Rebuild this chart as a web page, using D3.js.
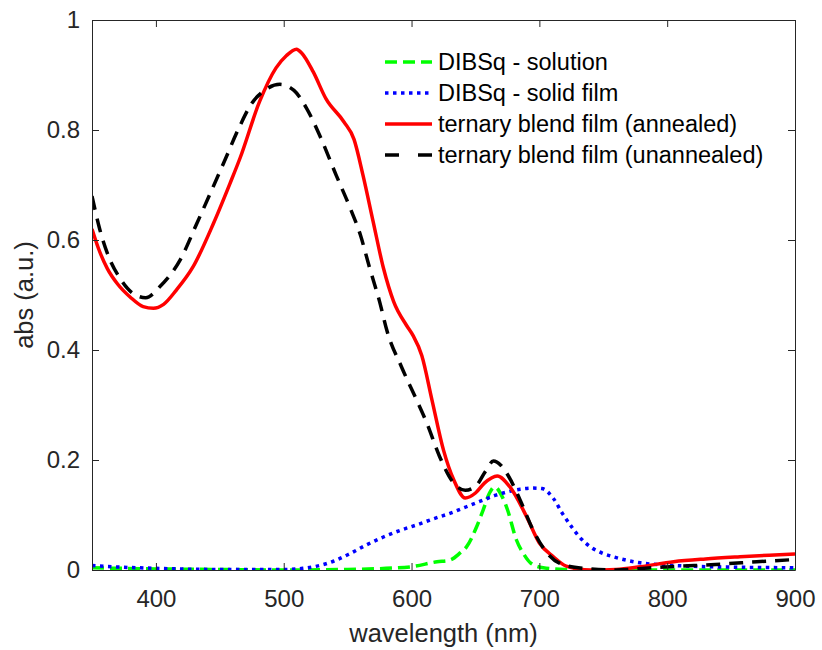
<!DOCTYPE html>
<html>
<head>
<meta charset="utf-8">
<script src="https://cdn.jsdelivr.net/npm/d3@7"></script>
<style>
  html, body { margin: 0; padding: 0; background: #fff; }
  svg { display: block; font-family: "Liberation Sans", Arial, Helvetica, sans-serif; }
</style>
</head>
<body>
<svg id="chart" width="822" height="650"></svg>
<script>
// ---- Data ----
const solutionWl  = [350, 400, 450, 500, 550, 580, 600, 620, 630, 638, 643, 651, 656, 661, 665, 671, 675, 682, 688, 693, 703, 720, 760, 800, 900];
const solutionAbs = [0.004, 0.002, 0.001, 0.0, 0.001, 0.003, 0.006, 0.015, 0.018, 0.031, 0.042, 0.079, 0.109, 0.14, 0.151, 0.133, 0.11, 0.055, 0.028, 0.013, 0.004, 0.001, 0.0, 0.0, 0.0];

const filmWl  = [350, 375, 400, 450, 480, 500, 515, 526, 540, 552, 565, 578, 591, 604, 617, 630, 643, 656, 666, 675, 685, 695, 702, 711, 718, 726, 733, 740, 750, 758, 779, 800, 831, 857, 900];
const filmAbs = [0.008, 0.005, 0.003, 0.001, 0.001, 0.001, 0.003, 0.007, 0.017, 0.03, 0.046, 0.06, 0.072, 0.082, 0.093, 0.103, 0.115, 0.127, 0.136, 0.142, 0.147, 0.149, 0.148, 0.13, 0.103, 0.076, 0.056, 0.042, 0.03, 0.024, 0.013, 0.009, 0.006, 0.005, 0.004];

const annealedWl  = [350, 355, 362, 370, 380, 390, 398, 406, 416, 429, 445, 458, 466, 481, 494, 502, 510, 514, 523, 533, 547, 555, 562, 570, 578, 586, 596, 601, 608, 616, 625, 633, 642, 650, 657, 667, 677, 690, 700, 711, 721, 740, 760, 779, 805, 830, 857, 880, 900];
const annealedAbs = [0.62, 0.585, 0.548, 0.52, 0.496, 0.479, 0.476, 0.483, 0.509, 0.551, 0.63, 0.703, 0.75, 0.851, 0.913, 0.935, 0.947, 0.94, 0.906, 0.857, 0.815, 0.783, 0.718, 0.633, 0.549, 0.488, 0.445, 0.427, 0.39, 0.309, 0.218, 0.164, 0.131, 0.14, 0.158, 0.171, 0.151, 0.097, 0.049, 0.024, 0.007, 0.0, 0.001, 0.006, 0.015, 0.02, 0.024, 0.027, 0.029];

const unannealedWl  = [350, 356, 363, 372, 382, 392, 403, 419, 432, 442, 453, 466, 474, 485, 497, 508, 518, 528, 541, 552, 560, 567, 575, 581, 592, 604, 612, 622, 633, 642, 650, 658, 664, 670, 676, 685, 695, 706, 716, 734, 760, 787, 812, 844, 870, 900];
const unannealedAbs = [0.68, 0.62, 0.57, 0.53, 0.503, 0.495, 0.515, 0.564, 0.63, 0.682, 0.74, 0.809, 0.845, 0.872, 0.883, 0.872, 0.839, 0.791, 0.718, 0.658, 0.609, 0.551, 0.488, 0.433, 0.37, 0.309, 0.267, 0.206, 0.158, 0.145, 0.152, 0.18, 0.198, 0.19, 0.17, 0.127, 0.073, 0.031, 0.012, 0.003, 0.0, 0.004, 0.007, 0.011, 0.015, 0.019];

const seriesNames = ["DIBSq - solution", "DIBSq - solid film", "ternary blend film (annealed)", "ternary blend film (unannealed)"];
const xTicks = [400, 500, 600, 700, 800, 900];
const yTicks = [0, 0.2, 0.4, 0.6, 0.8, 1];
const xLabel = "wavelength (nm)";
const yLabel = "abs (a.u.)";

// ---- Layout ----
const W = 822, H = 650;
const m = { left: 92, top: 20, right: 27, bottom: 80 };
const pw = W - m.left - m.right, ph = H - m.top - m.bottom;
const axisColor = "#262626";

const svg = d3.select("#chart");
svg.append("rect").attr("width", W).attr("height", H).attr("fill", "#fff");

const x = d3.scaleLinear().domain([350, 900]).range([0, pw]);
const y = d3.scaleLinear().domain([0, 1]).range([ph, 0]);

const g = svg.append("g").attr("transform", `translate(${m.left},${m.top})`);

g.append("defs").append("clipPath").attr("id", "clip")
  .append("rect").attr("x", 0).attr("y", -3).attr("width", pw).attr("height", ph + 3);

const styles = [
  { color: "#00ff00", width: 3.5, dash: "12,6" },
  { color: "#0000ff", width: 3.5, dash: "3.5,4.5" },
  { color: "#ff0000", width: 3.5, dash: null },
  { color: "#000000", width: 3.5, dash: "14,9" }
];
const seriesData = [
  solutionWl.map((w, i) => [w, solutionAbs[i]]),
  filmWl.map((w, i) => [w, filmAbs[i]]),
  annealedWl.map((w, i) => [w, annealedAbs[i]]),
  unannealedWl.map((w, i) => [w, unannealedAbs[i]])
];

const line = d3.line().x(d => x(d[0])).y(d => y(d[1])).curve(d3.curveMonotoneX);

const plot = g.append("g").attr("clip-path", "url(#clip)");
seriesData.forEach((data, i) => {
  const s = styles[i];
  plot.append("path")
    .datum(data)
    .attr("d", line)
    .attr("fill", "none")
    .attr("stroke", s.color)
    .attr("stroke-width", s.width)
    .attr("stroke-dasharray", s.dash)
    .attr("stroke-linejoin", "round");
});

// ---- Axes (box with inward ticks) ----
const fmt = d => (d === 0 ? "0" : d === 1 ? "1" : d3.format(".1f")(d));
const xAxis = g.append("g").attr("transform", `translate(0,${ph})`)
  .call(d3.axisBottom(x).tickValues(xTicks).tickSizeInner(-7).tickSizeOuter(0).tickPadding(20));
const yAxis = g.append("g")
  .call(d3.axisLeft(y).tickValues(yTicks).tickFormat(fmt).tickSizeInner(-7).tickSizeOuter(0).tickPadding(12));
const topAxis = g.append("g")
  .call(d3.axisTop(x).tickValues(xTicks).tickSizeInner(-7).tickSizeOuter(0).tickFormat(""));
const rightAxis = g.append("g").attr("transform", `translate(${pw},0)`)
  .call(d3.axisRight(y).tickValues(yTicks).tickSizeInner(-7).tickSizeOuter(0).tickFormat(""));

[xAxis, yAxis, topAxis, rightAxis].forEach(a => {
  a.selectAll("path.domain").attr("stroke", axisColor).attr("stroke-width", 1);
  a.selectAll(".tick line").attr("stroke", axisColor).attr("stroke-width", 1);
  a.selectAll(".tick text").attr("fill", axisColor).style("font-size", "24px")
    .style("font-family", '"Liberation Sans", Arial, sans-serif');
});

// Axis labels
svg.append("text")
  .attr("x", m.left + pw / 2).attr("y", 642)
  .attr("text-anchor", "middle")
  .attr("fill", axisColor)
  .style("font-size", "25.5px")
  .text(xLabel);
svg.append("text")
  .attr("transform", `translate(33,${m.top + ph / 2}) rotate(-90)`)
  .attr("text-anchor", "middle")
  .attr("fill", axisColor)
  .style("font-size", "25.5px")
  .text(yLabel);

// ---- Legend ----
const legend = svg.append("g").attr("transform", "translate(385,62)");
seriesNames.forEach((name, i) => {
  const s = styles[i];
  const row = legend.append("g").attr("transform", `translate(0,${i * 31})`);
  row.append("line")
    .attr("x1", 0).attr("x2", 47).attr("y1", 0).attr("y2", 0)
    .attr("stroke", s.color)
    .attr("stroke-width", s.width)
    .attr("stroke-dasharray", i === 3 ? "14,19" : s.dash);
  row.append("text")
    .attr("x", 53).attr("y", 0).attr("dy", "0.36em")
    .attr("fill", "#000")
    .style("font-size", "23.5px")
    .text(name);
});
</script>
</body>
</html>
